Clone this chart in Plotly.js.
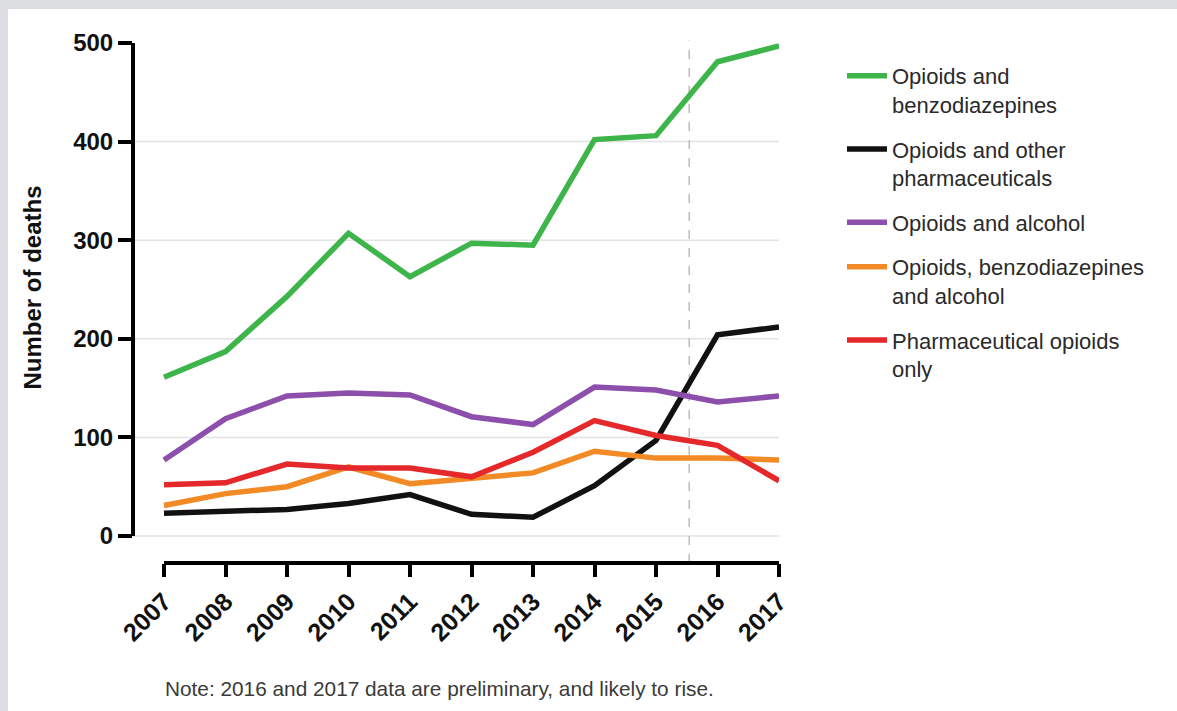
<!DOCTYPE html>
<html>
<head>
<meta charset="utf-8">
<script src="https://cdn.plot.ly/plotly-3.0.1.min.js"></script>
<style>
  html, body { margin: 0; padding: 0; background: #dcdde0; width: 1177px; height: 711px; overflow: hidden; }
  #chart { position: absolute; left: 8px; top: 9px; width: 1169px; height: 702px; background: #ffffff; }
</style>
</head>
<body>
<div id="chart"></div>
<script>
// ---- data ----
const years = [2007, 2008, 2009, 2010, 2011, 2012, 2013, 2014, 2015, 2016, 2017];
const opioidsBenzo = [161, 187, 243, 307, 263, 297, 295, 402, 406, 481, 497];
const opioidsOtherPharma = [23, 25, 27, 33, 42, 22, 19, 51, 97, 204, 212];
const opioidsAlcohol = [77, 119, 142, 145, 143, 121, 113, 151, 148, 136, 142];
const opioidsBenzoAlcohol = [31, 43, 50, 70, 53, 59, 64, 86, 79, 79, 77];
const pharmaOpioidsOnly = [52, 54, 73, 69, 69, 60, 85, 117, 102, 92, 56];

const seriesNames = [
  "Opioids and<br>benzodiazepines",
  "Opioids and other<br>pharmaceuticals",
  "Opioids and alcohol",
  "Opioids, benzodiazepines<br>and alcohol",
  "Pharmaceutical opioids<br>only"
];
const seriesColors = ["#3db54a", "#111111", "#8c4fab", "#f28a25", "#e5292a"];
const yTicks = [0, 100, 200, 300, 400, 500];
const gridVals = [0, 100, 200, 300, 400];
const preliminaryBoundary = 2015.54;
const noteText = "Note: 2016 and 2017 data are preliminary, and likely to rise.";
const yTitle = "Number of deaths";

const seriesValues = [opioidsBenzo, opioidsOtherPharma, opioidsAlcohol, opioidsBenzoAlcohol, pharmaOpioidsOnly];

const traces = seriesValues.map((vals, i) => ({
  type: "scatter",
  mode: "lines",
  x: years,
  y: vals,
  name: seriesNames[i],
  legendgroup: "g" + i,
  line: { color: seriesColors[i], width: 5.5 },
  hoverinfo: "x+y+name"
}));

const shapes = [];
gridVals.forEach(v => shapes.push({
  type: "line", xref: "paper", yref: "y", x0: 0, x1: 1, y0: v, y1: v,
  line: { color: "#e3e3e3", width: 1.5 }, layer: "below"
}));
shapes.push({
  type: "line", xref: "x", yref: "paper", x0: preliminaryBoundary, x1: preliminaryBoundary, y0: 0, y1: 1.005,
  line: { color: "#c9b8b8", width: 1.5, dash: "dash" }, layer: "below"
});
// axis lines (offset GraphPad style)
shapes.push({
  type: "line", xref: "paper", yref: "y", x0: 0, x1: 0, y0: 0, y1: 500,
  line: { color: "#000000", width: 4 }
});
shapes.push({
  type: "line", xref: "x", yref: "paper", x0: years[0], x1: years[years.length - 1], y0: 0, y1: 0,
  line: { color: "#000000", width: 4 }
});

const layout = {
  width: 1169,
  height: 702,
  margin: { l: 125, r: 398, t: 34, b: 148 },
  paper_bgcolor: "#ffffff",
  plot_bgcolor: "#ffffff",
  showlegend: true,
  font: { family: "Liberation Sans, Arial, sans-serif", color: "#111111" },
  xaxis: {
    range: [2007 - 31 / 61.5, 2017],
    tickvals: years,
    ticktext: years.map(String),
    tickangle: -45,
    ticks: "outside",
    ticklen: 13,
    tickwidth: 4,
    tickcolor: "#000000",
    showgrid: false,
    zeroline: false,
    showline: false,
    tickfont: { family: "Liberation Sans, Arial, sans-serif", size: 25, color: "#111111", weight: "bold" },
    fixedrange: true
  },
  yaxis: {
    range: [-520 / 0.986 + 500, 500],
    tickvals: yTicks,
    ticktext: yTicks.map(String),
    ticks: "outside",
    ticklen: 14,
    tickwidth: 4,
    tickcolor: "#000000",
    showgrid: false,
    zeroline: false,
    showline: false,
    tickfont: { family: "Liberation Sans, Arial, sans-serif", size: 24, color: "#111111", weight: "bold" },
    fixedrange: true
  },
  legend: {
    x: 1.0975,
    xanchor: "left",
    y: 0.977,
    yanchor: "top",
    valign: "top",
    itemwidth: 40,
    tracegroupgap: 13,
    font: { family: "Liberation Sans, Arial, sans-serif", size: 22, color: "#2a2a2a" },
    bgcolor: "rgba(0,0,0,0)"
  },
  shapes: shapes,
  annotations: [
    {
      text: yTitle, xref: "paper", yref: "y", x: -0.1548, y: 252,
      xanchor: "center", yanchor: "middle", textangle: -90, showarrow: false,
      font: { family: "Liberation Sans, Arial, sans-serif", size: 24, color: "#111111", weight: "bold" }
    },
    {
      text: noteText, xref: "paper", yref: "paper", x: 0.046, y: -0.2404,
      xanchor: "left", yanchor: "middle", showarrow: false,
      font: { family: "Liberation Sans, Arial, sans-serif", size: 20.8, color: "#3a3a3a" }
    }
  ]
};

Plotly.newPlot("chart", traces, layout, { displayModeBar: false, staticPlot: true });
</script>
</body>
</html>
